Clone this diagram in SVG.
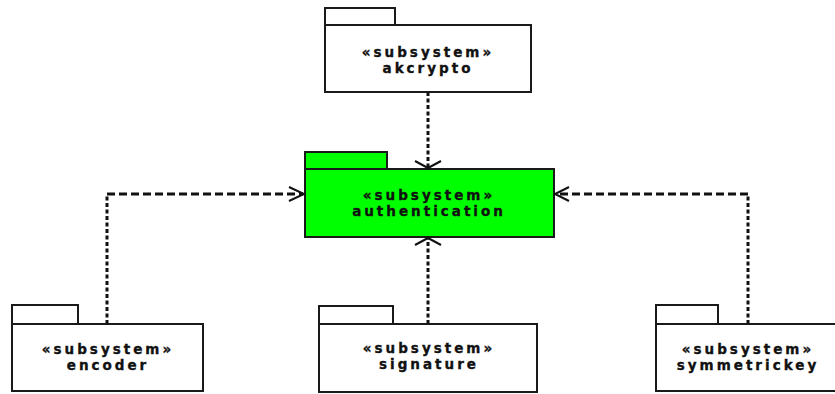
<svg xmlns="http://www.w3.org/2000/svg" width="835" height="394" viewBox="0 0 835 394">
  <style>
    .pkg { fill: #ffffff; stroke: #1a1a1a; stroke-width: 2; }
    .pkg.hl { fill: #00ff00; }
    .lbl { font-family: "DejaVu Sans", Verdana, sans-serif; font-weight: bold; font-size: 13.5px; letter-spacing: 3px; fill: #111111; stroke: #111111; stroke-width: 0.35; text-anchor: middle; }
    .dep { fill: none; stroke: #111111; stroke-width: 3; }
    .dep.v { stroke-dasharray: 4 2.5; }
    .dep.h { stroke-dasharray: 8 4; }
    .head { fill: none; stroke: #111111; stroke-width: 2; }
  </style>
  <rect width="835" height="394" fill="#ffffff"/>

  <g id="akcrypto">
    <rect class="pkg" x="325" y="8" width="70" height="17"/>
    <rect class="pkg" x="325" y="25" width="206" height="67"/>
    <text class="lbl" x="428" y="57">«subsystem»</text>
    <text class="lbl" x="428" y="73">akcrypto</text>
  </g>

  <g id="authentication">
    <rect class="pkg hl" x="305" y="152" width="82" height="17"/>
    <rect class="pkg hl" x="305" y="169" width="249" height="68"/>
    <text class="lbl" x="429" y="200">«subsystem»</text>
    <text class="lbl" x="429" y="216">authentication</text>
  </g>

  <g id="encoder">
    <rect class="pkg" x="12" y="305" width="66" height="19"/>
    <rect class="pkg" x="12" y="324" width="191" height="67"/>
    <text class="lbl" x="108" y="354">«subsystem»</text>
    <text class="lbl" x="108" y="370">encoder</text>
  </g>

  <g id="signature">
    <rect class="pkg" x="319" y="306" width="74" height="18"/>
    <rect class="pkg" x="319" y="324" width="218" height="68"/>
    <text class="lbl" x="429" y="353">«subsystem»</text>
    <text class="lbl" x="429" y="369">signature</text>
  </g>

  <g id="symmetrickey">
    <rect class="pkg" x="656" y="305" width="62" height="19"/>
    <rect class="pkg" x="656" y="324" width="184" height="67"/>
    <text class="lbl" x="748" y="354">«subsystem»</text>
    <text class="lbl" x="748" y="370">symmetrickey</text>
  </g>

  <g id="connectors">
    <!-- akcrypto -> authentication -->
    <path class="dep v" d="M428,92 V168"/>
    <polyline class="head" points="415,161 428,168 441,161"/>
    <!-- signature -> authentication -->
    <path class="dep v" d="M428,324 V238"/>
    <polyline class="head" points="415,245 428,238 441,245"/>
    <!-- encoder -> authentication -->
    <path class="dep v" d="M107,324 V194"/>
    <path class="dep h" d="M107,194 H303"/>
    <polyline class="head" points="289,187 304,194 289,201"/>
    <!-- symmetrickey -> authentication -->
    <path class="dep v" d="M748,324 V194"/>
    <path class="dep h" d="M748,194 H556"/>
    <polyline class="head" points="569,187 555,194 569,201"/>
  </g>
</svg>
